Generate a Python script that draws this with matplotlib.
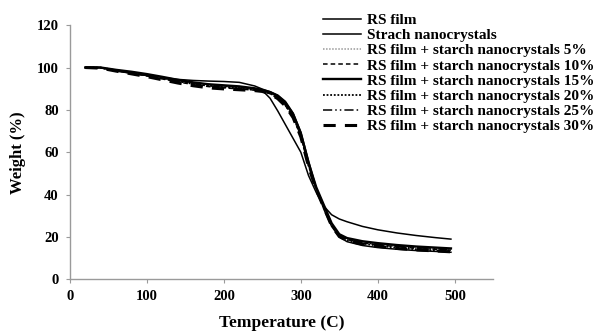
import matplotlib.pyplot as plt

plt.rcParams['font.family'] = ['Liberation Serif', 'DejaVu Serif']
plt.rcParams['font.weight'] = 'bold'

# temperature grid (C)
temp = [20, 40, 60, 80, 100, 120, 140, 160, 180, 200, 220, 240, 250, 260, 270,
        280, 290, 300, 310, 320, 330, 340, 350, 360, 380, 400, 425, 450, 475, 495]

# weight (%) for each sample
rs_film = [100, 100, 98.3, 97.3, 96.3, 95.3, 94.4, 93.9, 93.6, 93.4, 93.0, 91.3, 89.8, 88.6, 87.0,
           84.0, 78.5, 69.5, 56, 43, 33, 25, 20, 17.8, 16.0, 15.0, 14.2, 13.6, 13.2, 12.8]
starch = [100, 100, 98.5, 97.4, 96.2, 95.0, 93.8, 92.8, 92.0, 91.3, 90.6, 89.8, 89.2, 85.5, 79.5,
          73, 66.5, 60, 49, 41, 34.5, 30.5, 28.5, 27.2, 25, 23.4, 21.9, 20.7, 19.7, 19.0]
nc5 = [100, 100, 98.8, 97.8, 96.6, 95.2, 93.8, 92.6, 91.6, 91.0, 90.4, 89.6, 89.0, 88.0, 86.0,
       82.5, 77, 68, 54, 43, 34.5, 26, 21, 19.2, 17.6, 16.7, 15.8, 15.1, 14.6, 14.2]
nc10 = [100, 99.8, 98.5, 97.3, 96.0, 94.6, 93.2, 92.0, 91.0, 90.4, 89.9, 89.3, 88.8, 87.6, 85.5,
        82, 76.5, 67.5, 53.5, 42.5, 34, 25.5, 20.5, 18.8, 17.2, 16.3, 15.4, 14.7, 14.2, 13.8]
nc15 = [100, 100, 98.9, 98.0, 96.9, 95.6, 94.2, 93.0, 92.1, 91.6, 91.1, 90.2, 89.4, 88.4, 86.6,
        83.2, 78, 69, 55, 43.5, 35, 26.5, 21.3, 19.5, 18.0, 17.1, 16.2, 15.5, 15.0, 14.6]
nc20 = [100, 99.9, 98.6, 97.5, 96.3, 94.9, 93.5, 92.3, 91.4, 90.8, 90.2, 89.5, 88.9, 87.8, 85.8,
        82.2, 76.8, 67.8, 53.8, 42.7, 34.2, 25.7, 20.6, 18.6, 16.9, 15.9, 14.9, 14.2, 13.7, 13.3]
nc25 = [100, 100, 98.7, 97.6, 96.4, 95.0, 93.6, 92.4, 91.3, 90.7, 90.1, 89.4, 88.9, 87.9, 85.9,
        82.4, 77, 68, 54, 43, 34.3, 25.8, 20.8, 19.0, 17.4, 16.5, 15.6, 14.9, 14.4, 14.0]
nc30 = [100, 99.7, 98.3, 97.0, 95.7, 94.2, 92.7, 91.4, 90.4, 89.9, 89.5, 89.1, 88.7, 87.5, 85.3,
        81.8, 76.3, 67.2, 53.2, 42.2, 33.8, 25.2, 20.2, 18.3, 16.6, 15.6, 14.6, 13.9, 13.4, 13.0]

labels = ['RS film', 'Strach nanocrystals',
          'RS film + starch nanocrystals 5%', 'RS film + starch nanocrystals 10%',
          'RS film + starch nanocrystals 15%', 'RS film + starch nanocrystals 20%',
          'RS film + starch nanocrystals 25%', 'RS film + starch nanocrystals 30%']
series = [rs_film, starch, nc5, nc10, nc15, nc20, nc25, nc30]
styles = [
    dict(color='black', lw=1.1, ls='-'),
    dict(color='black', lw=1.1, ls='-'),
    dict(color='#999999', lw=1.1, ls=(0, (1, 1))),
    dict(color='black', lw=1.1, ls=(0, (3, 2))),
    dict(color='black', lw=1.7, ls='-'),
    dict(color='black', lw=1.3, ls=(0, (1, 1))),
    dict(color='black', lw=1.1, ls=(0, (6, 2, 1, 2, 1, 2))),
    dict(color='black', lw=2.2, ls=(0, (4, 3))),
]

fig = plt.figure(figsize=(6.03, 3.31), dpi=100)
ax = fig.add_axes([0.116, 0.156, 0.702, 0.768])

for w, lab, st in zip(series, labels, styles):
    ax.plot(temp, w, label=lab, **st)

ax.set_xlim(0, 550)
ax.set_ylim(0, 120)
ax.set_xticks([0, 100, 200, 300, 400, 500])
ax.set_yticks([0, 20, 40, 60, 80, 100, 120])
for s in ['top', 'right']:
    ax.spines[s].set_visible(False)
for s in ['left', 'bottom']:
    ax.spines[s].set_color('#9a9a9a')
    ax.spines[s].set_linewidth(1.0)
ax.tick_params(colors='#9a9a9a', labelcolor='black', length=3, labelsize=10.5, pad=5)
for t in ax.get_xticklabels() + ax.get_yticklabels():
    t.set_fontweight('bold')

ax.set_xlabel('Temperature (C)', fontsize=12.5, fontweight='bold', labelpad=8)
ax.set_ylabel('Weight (%)', fontsize=12, fontweight='bold', labelpad=8)

fig.legend(loc='upper left', bbox_to_anchor=(0.536, 0.96), frameon=False,
           borderpad=0, borderaxespad=0, handlelength=2.45, handletextpad=0.4,
           labelspacing=0.1, prop=dict(size=11, weight='bold'))

fig.savefig('out.png', dpi=100)
